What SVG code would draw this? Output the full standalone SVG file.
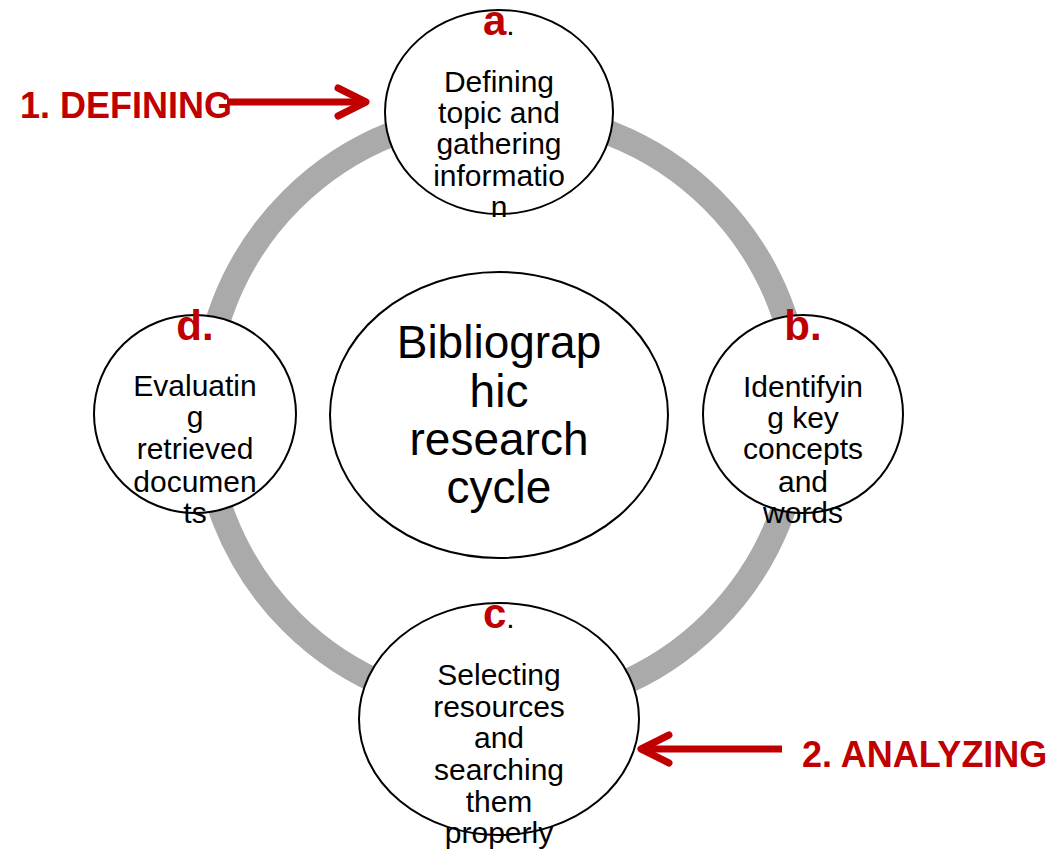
<svg xmlns="http://www.w3.org/2000/svg" width="1057" height="853" viewBox="0 0 1057 853">
<style>
.node{fill:#ffffff;stroke:#000000;stroke-width:2}
.t{font-family:"Liberation Sans",Arial,sans-serif;font-size:30px;fill:#000000;text-anchor:middle}
.big{font-family:"Liberation Sans",Arial,sans-serif;font-size:46px;fill:#000000;text-anchor:middle}
.lab{font-family:"Liberation Sans",Arial,sans-serif;font-size:42px;font-weight:bold;fill:#C00000}
.dot{font-family:"Liberation Sans",Arial,sans-serif;font-size:30px;fill:#000000}
.step{font-family:"Liberation Sans",Arial,sans-serif;font-size:36px;font-weight:bold;fill:#C00000}
.shaft{stroke:#C00000;stroke-width:7;fill:none}
.head{stroke:#C00000;stroke-width:7;fill:none;stroke-linecap:round;stroke-linejoin:round}
</style>
<rect width="1057" height="853" fill="#ffffff"/>
<g id="ring">
<circle cx="502" cy="411" r="298" fill="none" stroke="#AAAAAA" stroke-width="25"/>
</g>
<g id="node-center">
<ellipse class="node" cx="499" cy="415" rx="169" ry="143"/>
<text class="big" x="499" y="358">Bibliograp</text>
<text class="big" x="499" y="407">hic</text>
<text class="big" x="499" y="455">research</text>
<text class="big" x="499" y="503">cycle</text>
</g>
<g id="node-a">
<ellipse class="node" cx="499" cy="112" rx="114" ry="102"/>
<text x="483" y="35"><tspan class="lab">a</tspan><tspan class="dot">.</tspan></text>
<text class="t" x="499" y="92">Defining</text>
<text class="t" x="499" y="123">topic and</text>
<text class="t" x="499" y="154">gathering</text>
<text class="t" x="499" y="186">informatio</text>
<text class="t" x="499" y="217">n</text>
</g>
<g id="node-b">
<ellipse class="node" cx="803" cy="414" rx="100" ry="99"/>
<text class="lab" x="803" y="340" text-anchor="middle">b.</text>
<text class="t" x="803" y="397">Identifyin</text>
<text class="t" x="803" y="428">g key</text>
<text class="t" x="803" y="459">concepts</text>
<text class="t" x="803" y="492">and</text>
<text class="t" x="803" y="523">words</text>
</g>
<g id="node-c">
<ellipse class="node" cx="499" cy="719" rx="140" ry="116"/>
<text x="483" y="628"><tspan class="lab">c</tspan><tspan class="dot">.</tspan></text>
<text class="t" x="499" y="685">Selecting</text>
<text class="t" x="499" y="717">resources</text>
<text class="t" x="499" y="748">and</text>
<text class="t" x="499" y="780">searching</text>
<text class="t" x="499" y="812">them</text>
<text class="t" x="499" y="843">properly</text>
</g>
<g id="node-d">
<ellipse class="node" cx="195" cy="414" rx="101" ry="99"/>
<text class="lab" x="195" y="340" text-anchor="middle">d.</text>
<text class="t" x="195" y="396">Evaluatin</text>
<text class="t" x="195" y="427">g</text>
<text class="t" x="195" y="459">retrieved</text>
<text class="t" x="195" y="492">documen</text>
<text class="t" x="195" y="523">ts</text>
</g>
<g id="label-defining">
<text class="step" x="20" y="118">1. DEFINING</text>
</g>
<g id="label-analyzing">
<text class="step" x="802" y="767">2. ANALYZING</text>
</g>
<g id="connectors">
<line class="shaft" x1="227" y1="102" x2="364" y2="102"/>
<polyline class="head" points="338,88 366,102 338,116"/>
<line class="shaft" x1="782" y1="749" x2="643" y2="749"/>
<polyline class="head" points="669,735 641,749 669,763"/>
</g>
</svg>
